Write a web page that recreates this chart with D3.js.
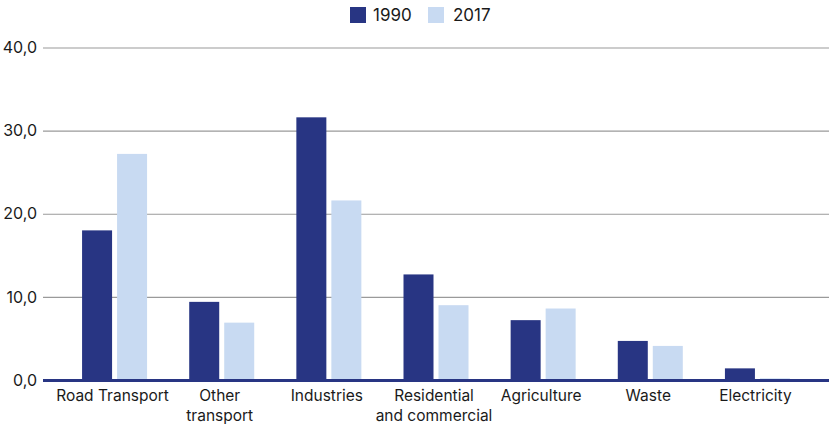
<!DOCTYPE html>
<html><head><meta charset="utf-8">
<script src="https://cdn.jsdelivr.net/npm/d3@7"></script>
<style>body{margin:0;background:#fff}svg{display:block}text{font-family:Inter,"Noto Sans",sans-serif;fill:#1a1a1a}</style>
</head><body>
<svg id="c" width="829" height="425"></svg>
<script>
const categories = [["Road Transport"],["Other","transport"],["Industries"],["Residential","and commercial"],["Agriculture"],["Waste"],["Electricity"]];
const series = ["1990","2017"];
const values1990 = [18.0, 9.4, 31.6, 12.7, 7.2, 4.7, 1.4];
const values2017 = [27.2, 6.9, 21.6, 9.0, 8.6, 4.1, 0.2];
const yTicks = [0,10,20,30,40];
const colors = ["#283583","#c8daf2"];

const svg = d3.select("#c");
const W = 829;
const y = d3.scaleLinear().domain([0,40]).range([380,47.5]);
const keys = categories.map((c,i)=>i);
const x0 = d3.scaleBand().domain(keys).range([61,811]).paddingInner(0.3933).paddingOuter(0.3933/2);
const x1 = d3.scaleBand().domain(series).range([0,x0.bandwidth()]).paddingInner(5/35);
const data = [values1990, values2017];

// gridlines
const ga = svg.append("g").attr("transform","translate(43,0)")
  .call(d3.axisLeft(y).tickValues(yTicks).tickSize(-(W-43)).tickFormat(d=>d3.format(".1f")(d).replace(".",",")));
ga.select(".domain").remove();
ga.selectAll(".tick line").attr("stroke","#9a9a9a").attr("stroke-width",1.2);
ga.selectAll(".tick text").attr("x",-6).attr("font-size",16).attr("fill","#1a1a1a").style("font-family","Inter,'Noto Sans',sans-serif");

// bars
const g = svg.append("g");
keys.forEach(i=>{
  series.forEach((s,j)=>{
    g.append("rect")
      .attr("x", x0(i)+x1(s))
      .attr("width", x1.bandwidth())
      .attr("y", y(data[j][i]))
      .attr("height", y(0)-y(data[j][i]))
      .attr("fill", colors[j]);
  });
});

// baseline
svg.append("line").attr("x1",43).attr("x2",W).attr("y1",y(0)+0.5).attr("y2",y(0)+0.5)
  .attr("stroke","#283583").attr("stroke-width",3);

// x labels
keys.forEach(i=>{
  const cx = x0(i)+x0.bandwidth()/2 - 2;
  const t = svg.append("text").attr("text-anchor","middle").attr("font-size",15.5);
  categories[i].forEach((line,k)=>{
    t.append("tspan").attr("x",cx).attr("y",401+k*20).text(line);
  });
});

// legend
const leg = [{x:350,tx:373},{x:428,tx:453}];
series.forEach((s,j)=>{
  svg.append("rect").attr("x",leg[j].x).attr("y",7).attr("width",16).attr("height",16).attr("fill",colors[j]);
  svg.append("text").attr("x",leg[j].tx).attr("y",21).attr("font-size",17).text(s);
});
</script>
</body></html>
